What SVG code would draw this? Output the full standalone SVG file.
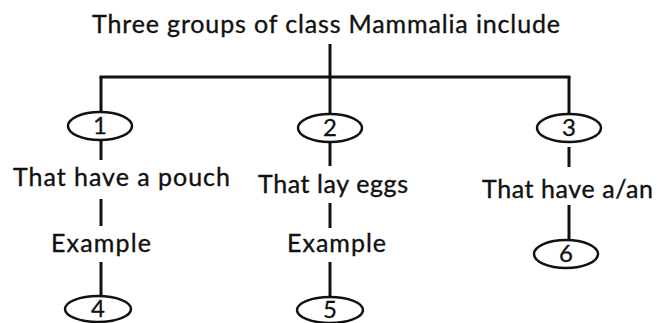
<svg xmlns="http://www.w3.org/2000/svg" width="657" height="323" viewBox="0 0 657 323">
<style>
.t{font-family:Lato,"Liberation Sans",sans-serif;font-size:25px;fill:#111;stroke:#111;stroke-width:0.35}
.n{font-family:Lato,"Liberation Sans",sans-serif;font-size:24px;fill:#111;stroke:#111;stroke-width:0.3;text-anchor:middle}
.e{fill:#fff;stroke:#111;stroke-width:2.5}
.c line{stroke:#111;stroke-width:3}
</style>
<rect width="657" height="323" fill="#fff"/>
<g id="title"><text class="t" x="92" y="33" textLength="468">Three groups of class Mammalia include</text></g>
<g class="c" id="connectors">
<line x1="330" y1="44" x2="330" y2="77"/>
<line x1="99.5" y1="77" x2="570.5" y2="77"/>
<line x1="101" y1="77" x2="101" y2="112"/>
<line x1="330" y1="77" x2="330" y2="114"/>
<line x1="569" y1="77" x2="569" y2="114"/>
<line x1="101" y1="141" x2="101" y2="160"/>
<line x1="101" y1="199" x2="101" y2="226"/>
<line x1="101" y1="262" x2="101" y2="296"/>
<line x1="330" y1="143" x2="330" y2="166"/>
<line x1="330" y1="203" x2="330" y2="228"/>
<line x1="330" y1="262" x2="330" y2="297"/>
<line x1="569" y1="147" x2="569" y2="167"/>
<line x1="569" y1="205" x2="569" y2="240"/>
</g>
<g id="n1"><ellipse class="e" cx="100" cy="126" rx="32" ry="14"/><text class="n" x="100" y="134">1</text></g>
<g id="n2"><ellipse class="e" cx="330" cy="128" rx="32" ry="14"/><text class="n" x="330" y="136">2</text></g>
<g id="n3"><ellipse class="e" cx="569" cy="128" rx="32" ry="14"/><text class="n" x="569" y="136">3</text></g>
<g id="l1"><text class="t" x="13" y="186" textLength="217">That have a pouch</text></g>
<g id="l2"><text class="t" x="258" y="193" textLength="150">That lay eggs</text></g>
<g id="l3"><text class="t" x="482" y="198" textLength="171">That have a/an</text></g>
<g id="ex1"><text class="t" x="51" y="252" textLength="100">Example</text></g>
<g id="ex2"><text class="t" x="287" y="252" textLength="99">Example</text></g>
<g id="n4"><ellipse class="e" cx="98" cy="309" rx="33" ry="13"/><text class="n" x="98" y="317">4</text></g>
<g id="n5"><ellipse class="e" cx="330" cy="310" rx="33" ry="13"/><text class="n" x="330" y="318">5</text></g>
<g id="n6"><ellipse class="e" cx="566" cy="254" rx="32" ry="14"/><text class="n" x="566" y="262">6</text></g>
</svg>
